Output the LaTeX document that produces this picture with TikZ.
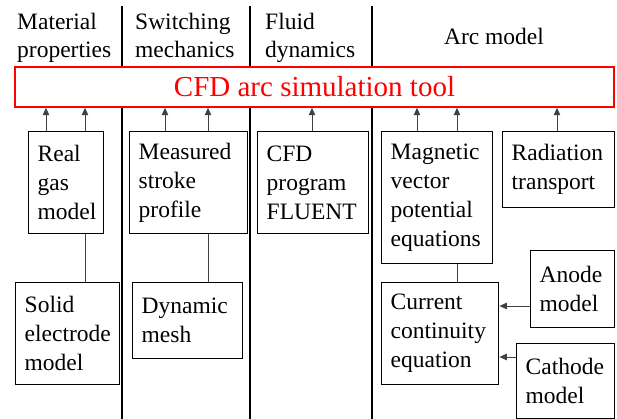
\documentclass[tikz,border=0pt]{standalone}
\usepackage{fontspec}
\setmainfont{Liberation Serif}
\usetikzlibrary{arrows.meta}
\begin{document}
\begin{tikzpicture}[x=1pt,y=-1pt,
 bx/.style={draw, line width=1.4pt, anchor=north west, inner xsep=9pt, inner ysep=0pt, align=left, font=\fontsize{23.5}{29}\selectfont},
 hdr/.style={anchor=north west, inner sep=0pt, align=left, font=\fontsize{23.5}{27.5}\selectfont},
 divline/.style={line width=2pt},
 conn/.style={line width=1pt, draw=black!75},
 arr/.style={conn, -{Triangle[length=7.5pt,width=6.5pt]}}]
\useasboundingbox (0,0) rectangle (617,419);
% dividers
\coordinate (d1t) at (122,6); \coordinate (d1b) at (122,419);
\coordinate (d2t) at (250,6); \coordinate (d2b) at (250,419);
\coordinate (d3t) at (372,6); \coordinate (d3b) at (372,419);
\draw[divline] (d1t) -- (d1b);
\draw[divline] (d2t) -- (d2b);
\draw[divline] (d3t) -- (d3b);
% headers
\node[hdr] (h1) at (17,13) {Material\\properties};
\node[hdr] (h2) at (135,13) {Switching\\mechanics};
\node[hdr] (h3) at (265,13) {Fluid\\dynamics};
\node[hdr, anchor=base] (h4) at (494,45) {Arc model};
% main tool
\node[draw=red, line width=1.5pt, fill=white, text=red, minimum width=599pt, minimum height=40pt, inner sep=0pt, font=\fontsize{29}{31}\selectfont] (tool) at (314.5,87) {CFD arc simulation tool};
% boxes
\node[bx, minimum width=75pt, minimum height=102pt, text width=57pt] (rg) at (28,131) {Real\\gas\\model};
\node[bx, minimum width=104pt, minimum height=102pt, text width=86pt] (se) at (15,282) {Solid\\electrode\\model};
\node[bx, minimum width=118pt, minimum height=102pt, text width=100pt] (msp) at (129,131) {Measured\\stroke\\profile};
\node[bx, minimum width=110pt, minimum height=76pt, text width=92pt] (dm) at (132,282) {Dynamic\\mesh};
\node[bx, minimum width=111pt, minimum height=102pt, text width=93pt] (fl) at (257,131) {CFD\\program\\FLUENT};
\node[bx, minimum width=111pt, minimum height=132pt, text width=93pt] (mv) at (381,131) {Magnetic\\vector\\potential\\equations};
\node[bx, minimum width=112pt, minimum height=76pt, text width=94pt] (rt) at (502,131) {Radiation\\transport};
\node[bx, minimum width=84pt, minimum height=77pt, text width=66pt] (am) at (530,250) {Anode\\model};
\node[bx, minimum width=117pt, minimum height=102pt, text width=99pt] (cc) at (381,282) {Current\\continuity\\equation};
\node[bx, minimum width=98pt, minimum height=75pt, text width=80pt] (ca) at (516,343) {Cathode\\model};
% arrows to tool
\draw[arr] (rg.north -| 46,0) -- (tool.south -| 46,0);
\draw[arr] (rg.north -| 85,0) -- (tool.south -| 85,0);
\draw[arr] (msp.north -| 165,0) -- (tool.south -| 165,0);
\draw[arr] (msp.north -| 208,0) -- (tool.south -| 208,0);
\draw[arr] (fl.north -| 312,0) -- (tool.south -| 312,0);
\draw[arr] (mv.north -| 417,0) -- (tool.south -| 417,0);
\draw[arr] (mv.north -| 457,0) -- (tool.south -| 457,0);
\draw[arr] (rt.north -| 557,0) -- (tool.south -| 557,0);
% links
\draw[conn] (rg.south -| 85,0) -- (se.north -| 85,0);
\draw[conn] (msp.south -| 208,0) -- (dm.north -| 208,0);
\draw[conn] (mv.south -| 457,0) -- (cc.north -| 457,0);
\draw[arr] (am.west |- 0,306) -- (cc.east |- 0,306);
\draw[arr] (ca.west |- 0,357) -- (cc.east |- 0,357);
\end{tikzpicture}
\end{document}
